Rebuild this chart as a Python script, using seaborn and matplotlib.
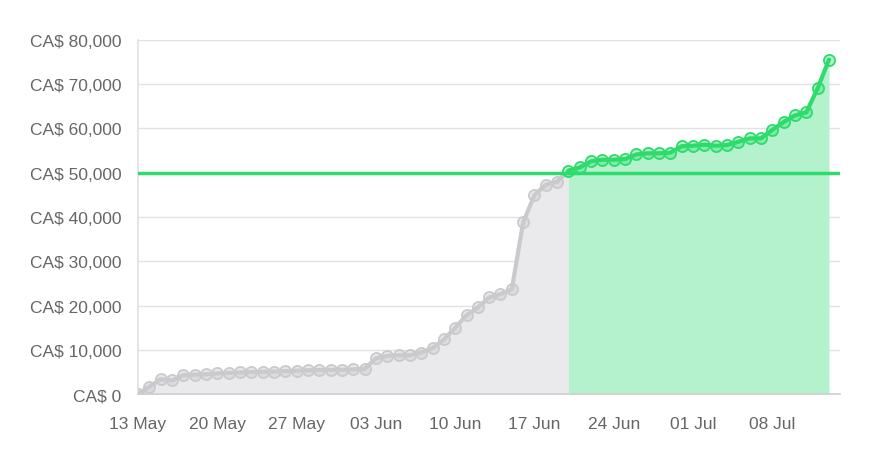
import pandas as pd
import numpy as np
import matplotlib
matplotlib.use("Agg")
import matplotlib.pyplot as plt
import matplotlib.dates as mdates
import matplotlib.ticker as mticker
import seaborn as sns

start = "2024-05-13"
totals = [0, 1700, 3400, 3100, 4300, 4400, 4500, 4700, 4800, 4900,
          5000, 5050, 5100, 5200, 5300, 5400, 5450, 5500, 5500, 5600,
          5700, 8100, 8650, 8800, 8800, 9400, 10400, 12350, 15000, 17800,
          19600, 21850, 22600, 23700, 38800, 45000, 47300, 48000, 50500, 51200,
          52600, 52950, 52950, 53100, 54150, 54400, 54400, 54550, 56000, 56100,
          56350, 56100, 56270, 57000, 57780, 57780, 59700, 61470, 62970, 63650,
          69080, 75550]
goal = 50000
goal_index = 38  # first day at or above the goal

dates = pd.date_range(start, periods=len(totals), freq="D")
df = pd.DataFrame({"date": dates, "total": totals})
before = df.iloc[:goal_index + 1]
after = df.iloc[goal_index:]

sns.set_theme(style="white")
plt.rcParams["font.family"] = ["Liberation Sans", "DejaVu Sans"]

fig, ax = plt.subplots(figsize=(8.79, 4.6), dpi=100)
fig.subplots_adjust(left=0.157, right=0.956, top=0.911, bottom=0.141)

gray_line = "#cacacd"
gray_fill = "#eaeaed"
green_line = "#2ddc6c"
green_fill = "#b3f2cc"

ax.fill_between(before["date"], before["total"], color=gray_fill, lw=0, zorder=1)
ax.fill_between(after["date"], after["total"], color=green_fill, lw=0, zorder=1)

sns.lineplot(data=before.iloc[:-1], x="date", y="total", ax=ax, color=gray_line,
             lw=3, marker="o", markersize=8, markerfacecolor=(0.8, 0.8, 0.82, 0.45),
             markeredgecolor=gray_line, markeredgewidth=1.3, zorder=3)
ax.plot(before["date"].iloc[-2:], before["total"].iloc[-2:], color=gray_line, lw=3, zorder=3)
sns.lineplot(data=after, x="date", y="total", ax=ax, color=green_line,
             lw=3, marker="o", markersize=8, markerfacecolor=(0.18, 0.86, 0.42, 0.35),
             markeredgecolor=green_line, markeredgewidth=1.3, zorder=4)

ax.axhline(goal, color=green_line, lw=2.5, zorder=5)

ax.set_xlim(dates[0], dates[0] + pd.Timedelta(days=62))
ax.set_ylim(0, 80000)
ax.yaxis.set_major_locator(mticker.MultipleLocator(10000))
ax.yaxis.set_major_formatter(mticker.FuncFormatter(lambda v, p: f"CA$ {v:,.0f}"))
ax.set_xticks(pd.date_range(start, periods=9, freq="7D"))
ax.xaxis.set_major_formatter(mdates.DateFormatter("%d %b"))

ax.grid(axis="y", color="#e2e2e2", lw=1, zorder=0)
for s in ["top", "right"]:
    ax.spines[s].set_visible(False)
ax.spines["left"].set_color("#e2e2e2")
ax.spines["bottom"].set_color("#d0d0d0")
ax.tick_params(axis="y", length=11, color="#e2e2e2", labelsize=12.5, labelcolor="#666666", pad=1)
ax.tick_params(axis="x", length=0, labelsize=12.5, labelcolor="#666666", pad=16)
ax.set_xlabel("")
ax.set_ylabel("")

fig.savefig("out.png", dpi=100)
